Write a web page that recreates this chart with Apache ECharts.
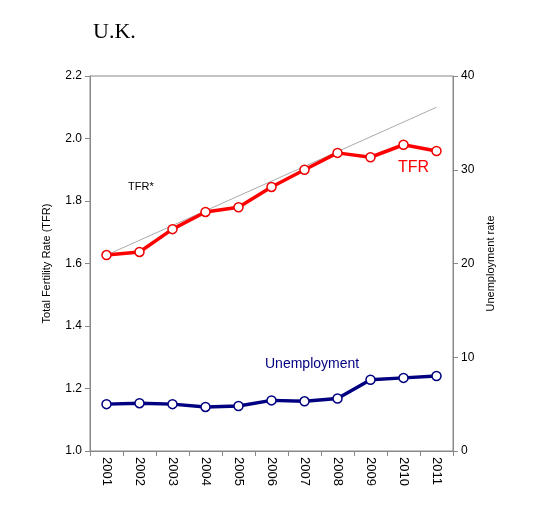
<!DOCTYPE html>
<html>
<head>
<meta charset="utf-8">
<script src="https://cdn.jsdelivr.net/npm/echarts@6/dist/echarts.min.js"></script>
<style>html,body{margin:0;background:#fff}#root{width:560px;height:510px}</style>
</head>
<body>
<div id="root"></div>
<script>
const years = ['2001','2002','2003','2004','2005','2006','2007','2008','2009','2010','2011'];
const tfr = [1.627, 1.637, 1.71, 1.765, 1.78, 1.845, 1.90, 1.954, 1.94, 1.98, 1.96];
const unemployment = [5.0, 5.1, 5.0, 4.7, 4.8, 5.4, 5.3, 5.6, 7.6, 7.8, 8.0];
const trend = [1.627, null, null, null, null, null, null, null, null, null, 2.10];

const chart = echarts.init(document.getElementById('root'));
const axisText = { color: '#000', fontFamily: 'Arial, Liberation Sans', fontSize: 12 };
chart.setOption({
  animation: false,
  grid: { left: 90, right: 107, top: 76, bottom: 59, show: true, borderColor: '#888', borderWidth: 1 },
  title: { text: 'U.K.', left: 88, top: 16, textStyle: { fontFamily: 'Liberation Serif', fontWeight: 'normal', fontSize: 22, color: '#000' } },
  xAxis: {
    type: 'category', data: years,
    axisLine: { lineStyle: { color: '#888' } },
    axisTick: { show: true, lineStyle: { color: '#888' } },
    axisLabel: { ...axisText, fontSize: 13, rotate: -90, margin: 6 }
  },
  yAxis: [
    { type: 'value', min: 1.0, max: 2.2, interval: 0.2, splitLine: { show: false },
      axisLine: { show: true, lineStyle: { color: '#888' } }, axisTick: { show: true, lineStyle: { color: '#888' } },
      axisLabel: { ...axisText, formatter: v => v.toFixed(1) },
      name: 'Total Fertility Rate (TFR)', nameLocation: 'middle', nameGap: 38, nameRotate: 90,
      nameTextStyle: { ...axisText, fontSize: 11 } },
    { type: 'value', min: 0, max: 40, interval: 10, splitLine: { show: false },
      axisLine: { show: true, lineStyle: { color: '#888' } }, axisTick: { show: true, lineStyle: { color: '#888' } },
      axisLabel: axisText,
      name: 'Unemployment rate', nameLocation: 'middle', nameGap: 32, nameRotate: 90,
      nameTextStyle: { ...axisText, fontSize: 11 } }
  ],
  series: [
    { type: 'line', data: trend, connectNulls: true, showSymbol: false, lineStyle: { color: '#aaa', width: 1 }, z: 1 },
    { type: 'line', data: tfr, symbol: 'circle', symbolSize: 9, lineStyle: { color: '#f00', width: 3.5 },
      itemStyle: { color: '#fff', borderColor: '#e00', borderWidth: 1.5 }, z: 3 },
    { type: 'line', yAxisIndex: 1, data: unemployment, symbol: 'circle', symbolSize: 9, lineStyle: { color: '#000080', width: 3.5 },
      itemStyle: { color: '#fff', borderColor: '#000080', borderWidth: 1.5 }, z: 3 }
  ],
  graphic: [
    { type: 'text', left: 128, top: 181, style: { text: 'TFR*', font: '11px Arial, Liberation Sans', fill: '#000' } },
    { type: 'text', left: 398, top: 160, style: { text: 'TFR', font: '16px Arial, Liberation Sans', fill: '#f00' } },
    { type: 'text', left: 265, top: 357, style: { text: 'Unemployment', font: '14px Arial, Liberation Sans', fill: '#000080' } }
  ]
});
</script>
</body>
</html>
